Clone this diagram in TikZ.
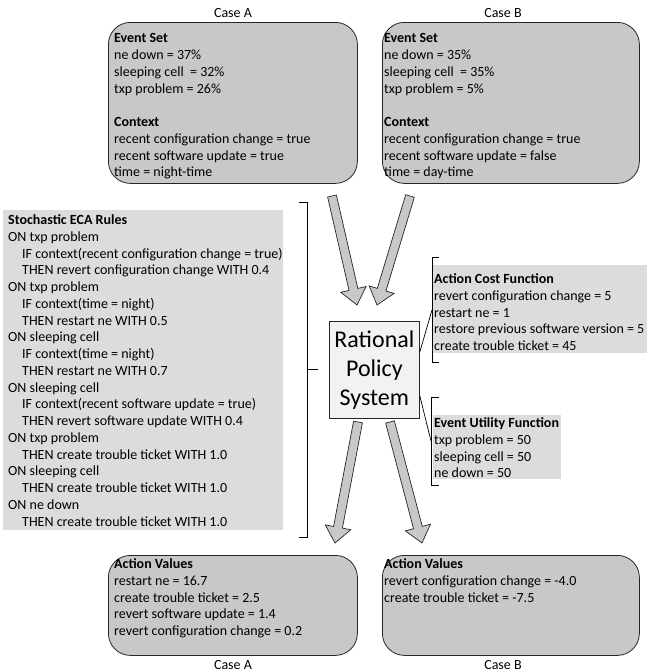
\documentclass[tikz,border=0pt]{standalone}
\usepackage{fontspec}
\setmainfont{Carlito}
\usepackage{xcolor}
\usetikzlibrary{calc}

\definecolor{casegray}{RGB}{200,200,200}
\definecolor{rulegray}{RGB}{220,220,220}
\definecolor{policygray}{RGB}{242,242,242}

\tikzset{
  casebox/.style={draw=black!85,fill=casegray,rounded corners=22pt,line width=0.8pt,
    anchor=north west,inner sep=0pt},
  greybox/.style={fill=rulegray,anchor=north west,inner sep=0pt},
  infotext/.style={anchor=north west,align=left,inner sep=0pt,font=\fontsize{14}{16.75}\selectfont},
  caselabel/.style={font=\fontsize{14}{16.75}\selectfont},
  bracketline/.style={draw=black,line width=0.7pt},
  bigarrow/.style={draw=black!85,fill=casegray,line width=0.7pt,line join=miter},
}

% hollow block arrow from #1 to tip #2
\newcommand{\blockarrow}[2]{%
  \coordinate (bah) at ($(#2)!16pt!(#1)$);
  \draw[bigarrow] ($(#1)!4.5pt!90:(#2)$) -- ($(bah)!4.5pt!90:(#2)$) -- ($(bah)!13pt!90:(#2)$)
    -- (#2) -- ($(bah)!13pt!-90:(#2)$) -- ($(bah)!4.5pt!-90:(#2)$) -- ($(#1)!4.5pt!-90:(#2)$) -- cycle;
}

\begin{document}
\begin{tikzpicture}[x=1pt,y=-1pt]
\useasboundingbox (0,0) rectangle (647,672);

% input cases
\node[caselabel] (caseAtop) at (233,13) {Case A};
\node[caselabel] (caseBtop) at (503,13) {Case B};
\node[casebox,minimum width=249pt,minimum height=161pt] (evA) at (108,22) {};
\node[casebox,minimum width=257pt,minimum height=161pt] (evB) at (382,22) {};
\node[infotext] (evAtxt) at (114,33.5) {\textbf{Event Set}\\ne down = 37\%\\sleeping cell \ = 32\%\\txp problem = 26\%\\[16.75pt]
  \textbf{Context}\\recent configuration change = true\\recent software update = true\\time = night-time};
\node[infotext] (evBtxt) at (384,33.5) {\textbf{Event Set}\\ne down = 35\%\\sleeping cell \ = 35\%\\txp problem = 5\%\\[16.75pt]
  \textbf{Context}\\recent configuration change = true\\recent software update = false\\time = day-time};

% rules
\node[greybox,minimum width=280pt,minimum height=320pt] (ecabg) at (3,210) {};
\node[infotext] (eca) at (8,214.5) {\textbf{Stochastic ECA Rules}\\
  ON txp problem\\\hspace*{14pt}IF context(recent configuration change = true)\\\hspace*{14pt}THEN revert configuration change WITH 0.4\\
  ON txp problem\\\hspace*{14pt}IF context(time = night)\\\hspace*{14pt}THEN restart ne WITH 0.5\\
  ON sleeping cell\\\hspace*{14pt}IF context(time = night)\\\hspace*{14pt}THEN restart ne WITH 0.7\\
  ON sleeping cell\\\hspace*{14pt}IF context(recent software update = true)\\\hspace*{14pt}THEN revert software update WITH 0.4\\
  ON txp problem\\\hspace*{14pt}THEN create trouble ticket WITH 1.0\\
  ON sleeping cell\\\hspace*{14pt}THEN create trouble ticket WITH 1.0\\
  ON ne down\\\hspace*{14pt}THEN create trouble ticket WITH 1.0};
\draw[bracketline] (299,202) -- (307,202) -- (307,537) -- (299,537);
\coordinate (ecamid) at (307,369);
\coordinate (ecaend) at (318,369);
\draw[bracketline] (ecamid) -- (ecaend);

% policy system
\node[draw=black!85,fill=policygray,line width=0.8pt,anchor=north west,minimum width=90pt,minimum height=97pt,
  inner sep=0pt,align=center,font=\fontsize{24}{29}\selectfont] (rps) at (329,321) {Rational\\Policy\\System};

% cost and utility
\node[greybox,minimum width=214pt,minimum height=88pt] (acfbg) at (433,265) {};
\node[infotext] (acf) at (434,273.5) {\textbf{Action Cost Function}\\revert configuration change = 5\\restart ne = 1\\
  restore previous software version = 5\\create trouble ticket = 45};
\draw[bracketline] (439,257) -- (432,257) -- (432,362) -- (439,362);
\coordinate (acfmid) at (432,310);
\draw[bracketline] ($(rps.north east)+(0,31)$) -- (acfmid);

\node[greybox,minimum width=128pt,minimum height=64pt] (eufbg) at (433,415) {};
\node[infotext] (euf) at (434,417.5) {\textbf{Event Utility Function}\\txp problem = 50\\sleeping cell = 50\\ne down = 50};
\draw[bracketline] (439,397) -- (431,397) -- (431,485) -- (439,485);
\coordinate (eufmid) at (431,441);
\draw[bracketline] ($(rps.south east)+(0,-23)$) -- (eufmid);

% outputs
\node[casebox,minimum width=249pt,minimum height=100pt] (avA) at (108,555) {};
\node[casebox,minimum width=257pt,minimum height=100pt] (avB) at (382,555) {};
\node[infotext] (avAtxt) at (114,558.5) {\textbf{Action Values}\\restart ne = 16.7\\create trouble ticket = 2.5\\
  revert software update = 1.4\\revert configuration change = 0.2};
\node[infotext] (avBtxt) at (384,558.5) {\textbf{Action Values}\\revert configuration change = -4.0\\create trouble ticket = -7.5};
\node[caselabel] (caseAbot) at (233,665) {Case A};
\node[caselabel] (caseBbot) at (503,665) {Case B};

% block arrows
\coordinate (inAs) at (332,196);  \coordinate (inAt) at (357,305);
\coordinate (inBs) at (410,196);  \coordinate (inBt) at (377,305);
\coordinate (outAs) at (358,422); \coordinate (outAt) at (335,543);
\coordinate (outBs) at (390,422); \coordinate (outBt) at (422,543);
\blockarrow{inAs}{inAt}
\blockarrow{inBs}{inBt}
\blockarrow{outAs}{outAt}
\blockarrow{outBs}{outBt}
\end{tikzpicture}
\end{document}
